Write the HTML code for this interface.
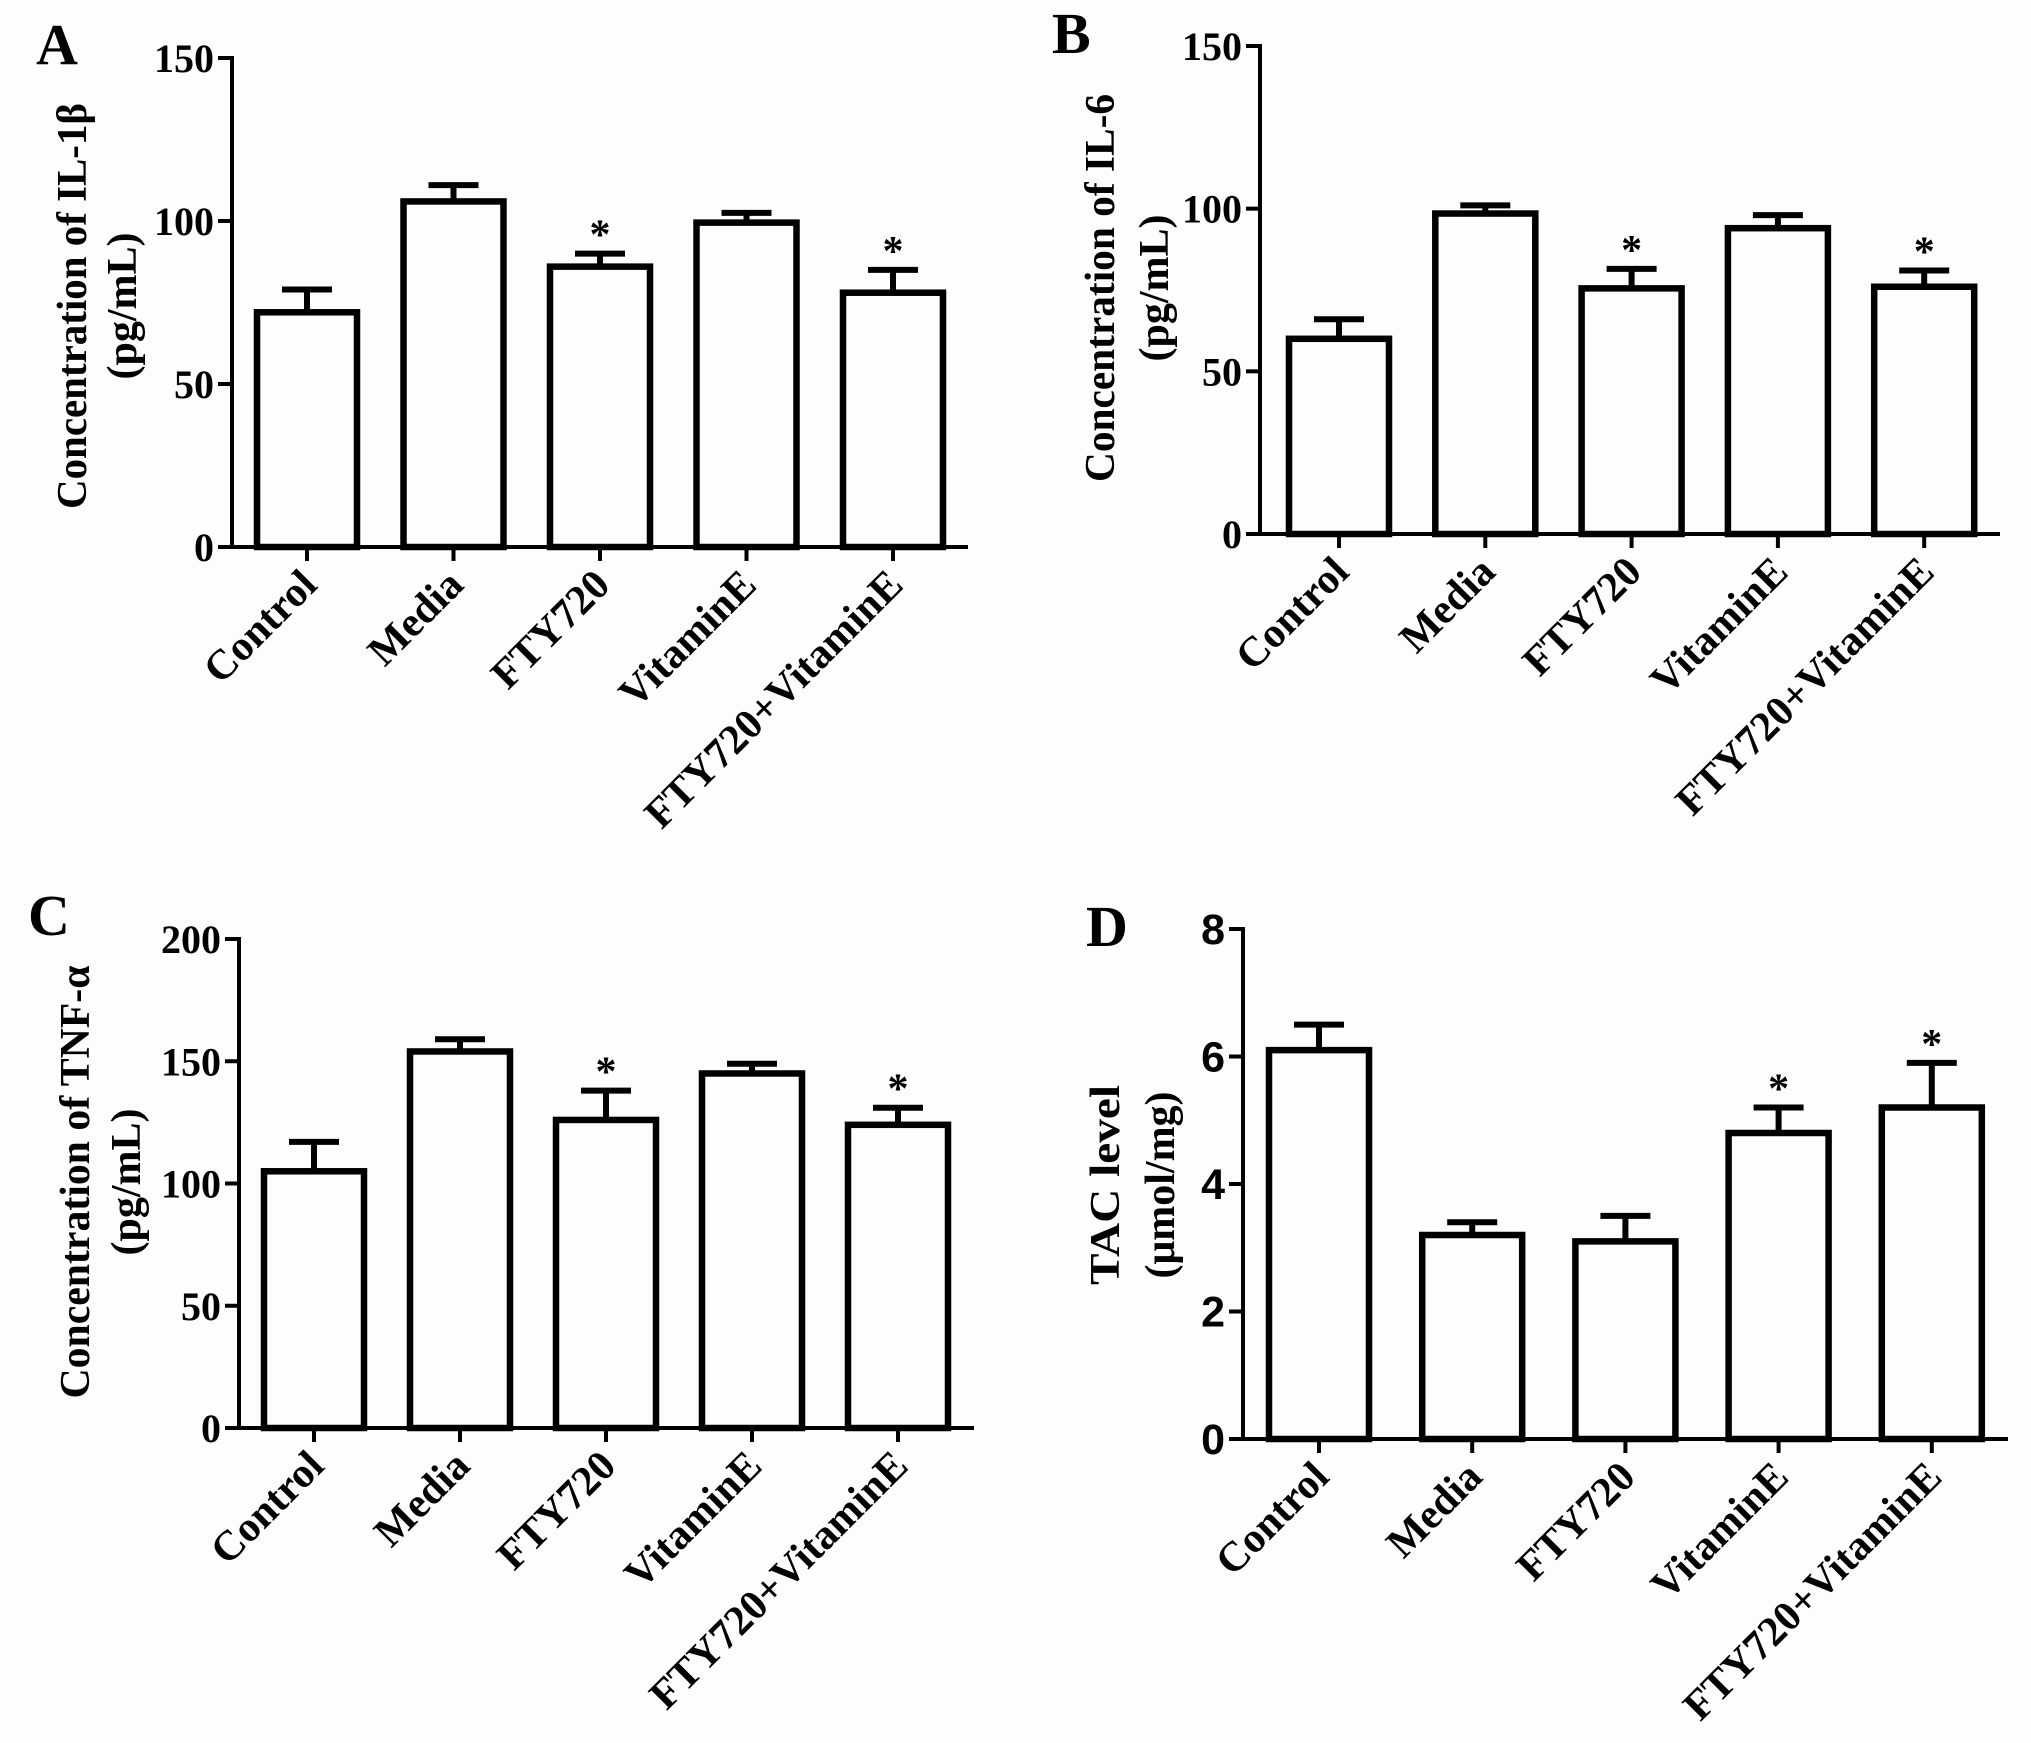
<!DOCTYPE html>
<html><head><meta charset="utf-8"><style>
html,body{margin:0;padding:0;background:#fdfdfd;}
svg{display:block;}
text{font-family:"Liberation Serif",serif;font-weight:bold;fill:#000;}
</style></head><body>
<svg id="fig" width="2031" height="1743" viewBox="0 0 2031 1743" xmlns="http://www.w3.org/2000/svg">
<rect width="2031" height="1743" fill="#fdfdfd"/>
</svg>
<script>
const categories = ["Control","Media","FTY720","VitaminE","FTY720+VitaminE"];
const valuesA = [72, 106, 86, 99.5, 78];
const errorsA = [7, 5, 4, 3, 7];
const starsA = [false, false, true, false, true];
const ticksA = [0, 50, 100, 150];
const valuesB = [60, 98.5, 75.5, 94, 76];
const errorsB = [6, 2.5, 6, 4, 5];
const starsB = [false, false, true, false, true];
const ticksB = [0, 50, 100, 150];
const valuesC = [105, 154, 126, 145, 124];
const errorsC = [12, 5, 12, 4, 7];
const starsC = [false, false, true, false, true];
const ticksC = [0, 50, 100, 150, 200];
const valuesD = [6.1, 3.2, 3.1, 4.8, 5.2];
const errorsD = [0.4, 0.2, 0.4, 0.4, 0.7];
const starsD = [false, false, false, true, true];
const ticksD = [0, 2, 4, 6, 8];

const NS = "http://www.w3.org/2000/svg";
const svg = document.getElementById("fig");
function mk(tag, attrs, parent){
  const e = document.createElementNS(NS, tag);
  for (const k in attrs) e.setAttribute(k, attrs[k]);
  (parent||svg).appendChild(e);
  return e;
}

const panels = [
  {id:"a", letter:"A", lx:36, ly:64, ax:232, y0:547, yTop:58, xEnd:968, max:150, first:307, step:146.5,
   values:valuesA, errors:errorsA, stars:starsA, ticks:ticksA, tickFont:"serif",
   t1:"Concentration of IL-1β", t2:"(pg/mL)", t1x:72, t2x:122, ty:306, t1len:406},
  {id:"b", letter:"B", lx:1052, ly:53, ax:1260, y0:534, yTop:46, xEnd:2000, max:150, first:1339, step:146.3,
   values:valuesB, errors:errorsB, stars:starsB, ticks:ticksB, tickFont:"serif",
   t1:"Concentration of IL-6", t2:"(pg/mL)", t1x:1100, t2x:1154, ty:288, t1len:388},
  {id:"c", letter:"C", lx:28, ly:935, ax:239, y0:1428, yTop:939, xEnd:974, max:200, first:314, step:146,
   values:valuesC, errors:errorsC, stars:starsC, ticks:ticksC, tickFont:"serif",
   t1:"Concentration of TNF-α", t2:"(pg/mL)", t1x:75, t2x:126, ty:1182, t1len:433},
  {id:"d", letter:"D", lx:1086, ly:946, ax:1243, y0:1439, yTop:929, xEnd:2008, max:8, first:1319, step:153.2,
   values:valuesD, errors:errorsD, stars:starsD, ticks:ticksD, tickFont:"sans",
   t1:"TAC level", t2:"(μmol/mg)", t1x:1105, t2x:1160, ty:1185, t1len:200}
];

panels.forEach(p => {
  const g = mk("g", {});
  
  
  const ys = v => p.y0 - (v / p.max) * (p.y0 - p.yTop);
  const xs = i => p.first + i * p.step;
  const bw = 100;

  const L = mk("text", {x:p.lx, y:p.ly, "font-size":58}, g);
  L.textContent = p.letter;
  
  

  p.values.forEach((v, i) => {
    const x = xs(i), top = ys(v), eTop = ys(v + p.errors[i]);
    const eb = mk("line", {x1:x, x2:x, y1:top, y2:eTop, stroke:"#000","stroke-width":6}, g);
    
    
    const cap = mk("line", {x1:x-25, x2:x+25, y1:eTop, y2:eTop, stroke:"#000","stroke-width":6}, g);
    
    
    const r = mk("rect", {x:x-bw/2, y:top, width:bw, height:p.y0-top, fill:"#fdfdfd", stroke:"#000", "stroke-width":6.5}, g);
    
    
    if (p.stars[i]) {
      const s = mk("text", {x:x, y:eTop-5, "font-size":42, "text-anchor":"middle"}, g);
      s.textContent = "*";
      
      
    }
    const tk = mk("line", {x1:x, x2:x, y1:p.y0, y2:p.y0+14, stroke:"#000","stroke-width":4}, g);
    
    
    const lx = x + 12, ly = p.y0 + 40;
    const t = mk("text", {x:lx, y:ly, "font-size":42, "text-anchor":"end", transform:`rotate(-45 ${lx} ${ly})`}, g);
    t.textContent = categories[i];
    
    
  });

  const ya = mk("line", {x1:p.ax, x2:p.ax, y1:p.yTop-2, y2:p.y0+2, stroke:"#000","stroke-width":4}, g);
  
  
  const xa = mk("line", {x1:p.ax-14, x2:p.xEnd, y1:p.y0, y2:p.y0, stroke:"#000","stroke-width":4}, g);
  
  

  p.ticks.forEach((tv, j) => {
    const y = ys(tv);
    const tk = mk("line", {x1:p.ax-14, x2:p.ax, y1:y, y2:y, stroke:"#000","stroke-width":4}, g);
    
    
    const attrs = {x:p.ax-18, y:y+14, "font-size":40, "text-anchor":"end"};
    if (p.tickFont === "sans") { attrs.style = 'font-family:"Liberation Sans",sans-serif'; attrs["font-size"] = 43; attrs.y = y+15; }
    const tl = mk("text", attrs, g);
    tl.textContent = tv;
    
    
  });

  const a1 = mk("text", {x:0, y:0, "font-size":42, "text-anchor":"middle", textLength:p.t1len, lengthAdjust:"spacingAndGlyphs",
    transform:`translate(${p.t1x+14} ${p.ty}) rotate(-90)`}, g);
  a1.textContent = p.t1;
  
  
  const a2 = mk("text", {x:0, y:0, "font-size":42, "text-anchor":"middle",
    transform:`translate(${p.t2x+14} ${p.ty}) rotate(-90)`}, g);
  a2.textContent = p.t2;
  
  
});
</script>
</body></html>
